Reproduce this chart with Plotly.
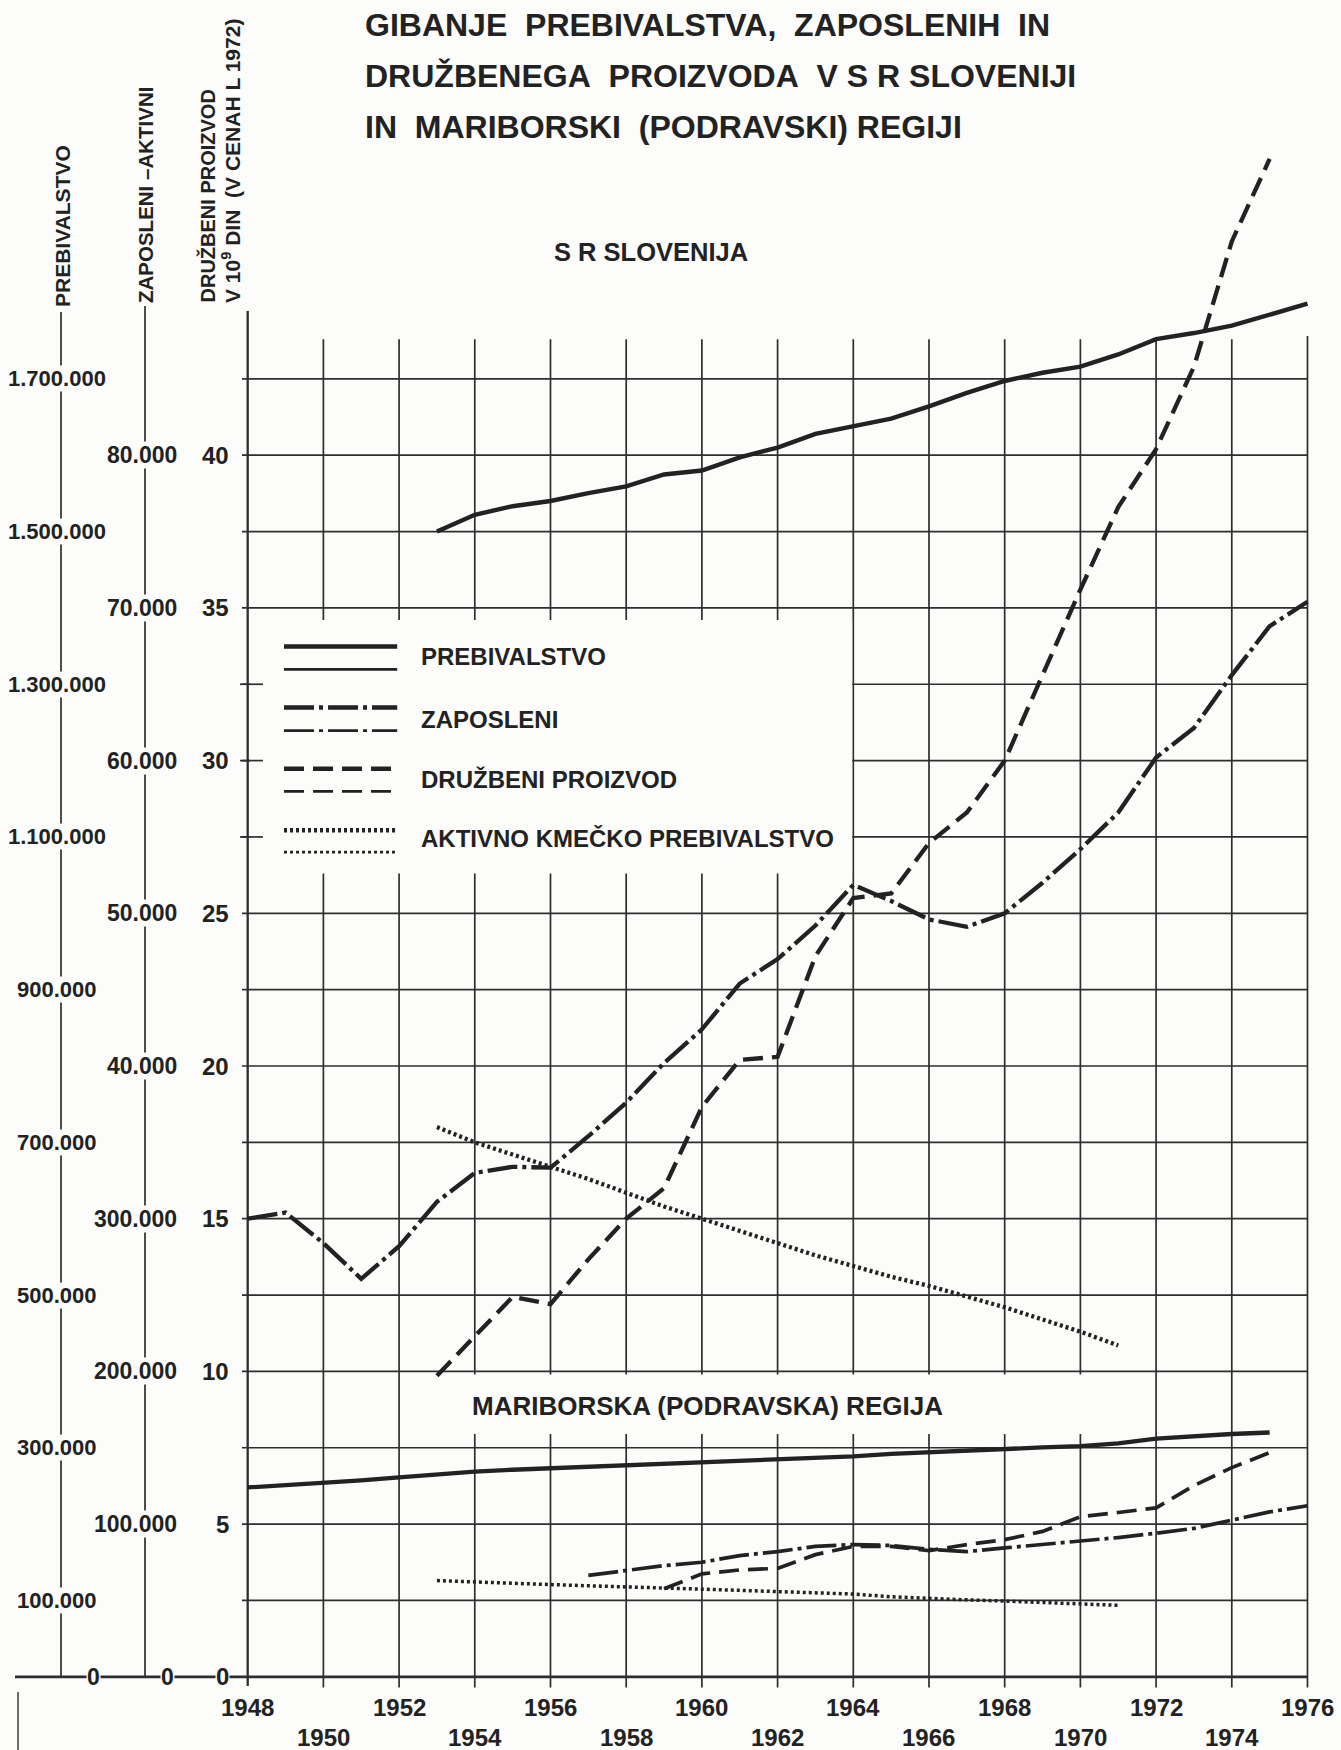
import plotly.graph_objects as go

# ---------------- data ----------------
years_slo_preb = list(range(1953, 1977))
slo_preb = [37.5, 38.05, 38.33, 38.5, 38.76, 38.98, 39.37, 39.5, 39.93, 40.25, 40.7, 40.95,
            41.2, 41.6, 42.04, 42.43, 42.7, 42.9, 43.3, 43.8, 44.0, 44.24, 44.6, 44.96]

years_slo_zap = list(range(1948, 1977))
slo_zap = [15.0, 15.2, 14.2, 13.03, 14.1, 15.55, 16.5, 16.7, 16.67, 17.7, 18.8, 20.1, 21.2,
           22.7, 23.5, 24.6, 25.93, 25.4, 24.8, 24.56, 25.0, 26.0, 27.1, 28.3, 30.1, 31.07,
           32.8, 34.4, 35.2]

years_slo_dp = list(range(1953, 1976))
slo_dp = [9.86, 11.15, 12.44, 12.2, 13.67, 15.0, 16.0, 18.66, 20.2, 20.3, 23.6, 25.5, 25.65,
          27.3, 28.3, 30.0, 32.8, 35.6, 38.3, 40.2, 42.9, 47.0, 49.7]

years_slo_akt = list(range(1953, 1972))
slo_akt = [18.0, 17.5, 17.1, 16.7, 16.3, 15.85, 15.4, 15.0, 14.6, 14.2, 13.8, 13.45, 13.1,
           12.8, 12.45, 12.1, 11.7, 11.3, 10.85]

years_mb_preb = list(range(1948, 1976))
mb_preb = [6.2, 6.27, 6.33, 6.43, 6.53, 6.63, 6.72, 6.78, 6.83, 6.88, 6.93, 6.98, 7.02, 7.06,
           7.1, 7.16, 7.22, 7.3, 7.36, 7.42, 7.47, 7.51, 7.55, 7.64, 7.8, 7.88, 7.95, 8.0]

years_mb_zap = list(range(1957, 1977))
mb_zap = [3.32, 3.48, 3.64, 3.75, 3.97, 4.1, 4.27, 4.33, 4.3, 4.17, 4.1, 4.22, 4.33, 4.44,
          4.56, 4.7, 4.86, 5.13, 5.4, 5.6]

years_mb_dp = list(range(1959, 1976))
mb_dp = [2.88, 3.37, 3.5, 3.55, 4.0, 4.27, 4.27, 4.13, 4.33, 4.49, 4.76, 5.24, 5.38, 5.53,
         6.26, 6.85, 7.34]

years_mb_akt = list(range(1953, 1972))
mb_akt = [3.15, 3.1, 3.06, 3.02, 2.98, 2.95, 2.91, 2.87, 2.83, 2.79, 2.75, 2.71, 2.62, 2.56,
          2.52, 2.48, 2.44, 2.39, 2.34]

# axis tick labels
dp_ticks = [0, 5, 10, 15, 20, 25, 30, 35, 40]
dp_labels = ["0", "5", "10", "15", "20", "25", "30", "35", "40"]
zap_labels = ["0", "100.000", "200.000", "300.000", "40.000", "50.000", "60.000", "70.000", "80.000"]
preb_ticks = [0, 2.5, 7.5, 12.5, 17.5, 22.5, 27.5, 32.5, 37.5, 42.5]
preb_labels = ["0", "100.000", "300.000", "500.000", "700.000", "900.000", "1.100.000",
               "1.300.000", "1.500.000", "1.700.000"]
x_label_years = list(range(1948, 1977, 2))

legend_names = ["PREBIVALSTVO", "ZAPOSLENI", "DRUŽBENI PROIZVOD", "AKTIVNO KMEČKO PREBIVALSTVO"]

# ---------------- styling ----------------
INK = "#222222"
GRID = "#2e2e2e"
BG = "#fcfcfa"
FONT = "Liberation Sans, Arial, sans-serif"

DASH = {"preb": "solid", "zap": "30px,5px,4px,5px", "dp": "20px,9px", "akt": "3px,3px"}

W, H = 1341, 1750
PX_PER_YEAR = 37.85
X_MIN = 1941.456
Y0_PX = 1676.8
PX_PER_UNIT = 30.54


def xp(px):
    return X_MIN + px / PX_PER_YEAR


def yp(py):
    return (Y0_PX - py) / PX_PER_UNIT


fig = go.Figure()


def add_series(x, y, kind, width):
    fig.add_trace(go.Scatter(x=x, y=y, mode="lines",
                             line=dict(color=INK, width=width, dash=DASH[kind]),
                             showlegend=False, hoverinfo="skip"))


add_series(years_slo_preb, slo_preb, "preb", 4.4)
add_series(years_slo_zap, slo_zap, "zap", 4.3)
add_series(years_slo_dp, slo_dp, "dp", 4.3)
add_series(years_slo_akt, slo_akt, "akt", 4.3)
add_series(years_mb_preb, mb_preb, "preb", 4.3)
add_series(years_mb_zap, mb_zap, "zap", 3.7)
add_series(years_mb_dp, mb_dp, "dp", 3.7)
add_series(years_mb_akt, mb_akt, "akt", 3.5)

shapes = []


def seg(x0, y0, x1, y1, w=1.7, color=GRID, dash="solid", layer="below"):
    shapes.append(dict(type="line", xref="x", yref="y", x0=x0, y0=y0, x1=x1, y1=y1,
                       line=dict(color=color, width=w, dash=dash), layer=layer))


def box(x0, y0, x1, y1):
    shapes.append(dict(type="rect", xref="x", yref="y", x0=x0, y0=y0, x1=x1, y1=y1,
                       fillcolor=BG, line=dict(width=0), layer="below"))


# horizontal grid
for k in range(1, 18):
    v = 2.5 * k
    seg(xp(242), v, 1976, v)
seg(xp(15), 0, 1976, 0, w=2.8)
# vertical grid
for yr in x_label_years[1:]:
    top = 43.9 if yr == 1976 else 43.8
    seg(yr, -0.35, yr, top)
# left axes
seg(xp(61), 0, xp(61), yp(312), w=1.7)
seg(xp(145), 0, xp(145), yp(306), w=1.7)
seg(xp(18), yp(1692), xp(18), yp(1760), w=1.4)

# white boxes (legend, region label)
box(1948.06, 26.3, 1963.97, 34.6)
box(1953.2, 7.95, 1971.2, 9.9)
# ticks on the main axis under the legend box
for v in (27.5, 30.0, 32.5):
    seg(xp(240), v, xp(263), v)
# main (DP) axis
seg(1948, -0.3, 1948, yp(311), w=2.3)

# legend samples
row_thick = [33.74, 31.74, 29.73, 27.72]
row_thin = [32.99, 30.98, 28.99, 27.0]
row_text = [33.42, 31.35, 29.38, 27.46]
kinds = ["preb", "zap", "dp", "akt"]
for i, kd in enumerate(kinds):
    seg(1948.96, row_thick[i], 1951.95, row_thick[i], w=4.5, color=INK, dash=DASH[kd], layer="above")
    seg(1948.96, row_thin[i], 1951.95, row_thin[i], w=2.8, color=INK, dash=DASH[kd], layer="above")

ann = []


def text(x, y, s, size, xanchor="center", yanchor="middle", xref="x", yref="y",
         angle=0, bg=None):
    d = dict(x=x, y=y, xref=xref, yref=yref, text="<b>" + s + "</b>", showarrow=False,
             xanchor=xanchor, yanchor=yanchor, textangle=angle,
             font=dict(family=FONT, size=size, color=INK), borderpad=0)
    if bg:
        d["bgcolor"] = bg
    ann.append(d)


for i, name in enumerate(legend_names):
    text(1952.55, row_text[i], name, 24, xanchor="left")

# title
NB = "\u00a0"
title_lines = ["GIBANJE" + NB + " PREBIVALSTVA," + NB + " ZAPOSLENIH" + NB + " IN",
               "DRUŽBENEGA" + NB + " PROIZVODA" + NB + " V S R SLOVENIJI",
               "IN" + NB + " MARIBORSKI" + NB + " (PODRAVSKI) REGIJI"]
for line, cy in zip(title_lines, [25, 76, 127]):
    text(364 / W, 1 - cy / H, line, 32, xanchor="left", xref="paper", yref="paper")

text(651 / W, 1 - 252 / H, "S R SLOVENIJA", 25.5, xref="paper", yref="paper")
text(1960.16, 8.88, "MARIBORSKA (PODRAVSKA) REGIJA", 26)

# axis titles (rotated)
text(xp(62), yp(308), "PREBIVALSTVO", 21, yanchor="bottom", angle=-90)
text(xp(145), yp(304), "ZAPOSLENI –AKTIVNI", 20.5, yanchor="bottom", angle=-90)
text(xp(207), yp(304), "DRUŽBENI PROIZVOD", 20, yanchor="bottom", angle=-90)
text(xp(231), yp(304), "V 10<sup>9</sup> DIN  (V CENAH L 1972)", 21,
     yanchor="bottom", angle=-90)

# tick labels
for v, lab in zip(dp_ticks, dp_labels):
    text(xp(230), v, lab, 24, xanchor="right", bg=BG)
for v, lab in zip(dp_ticks, zap_labels):
    if lab == "0":
        text(xp(167), v, lab, 23, bg=BG)
    else:
        text(xp(178), v, lab, 23, xanchor="right", bg=BG)
for v, lab in zip(preb_ticks, preb_labels):
    if lab == "0":
        text(xp(93), v, lab, 23, bg=BG)
    else:
        text(xp(57), v, lab, 22, bg=BG)

for i, yr in enumerate(x_label_years):
    text(yr, -1.0 if i % 2 == 0 else -2.0, str(yr), 24)

fig.update_layout(
    width=W, height=H, autosize=False,
    margin=dict(l=0, r=0, t=0, b=0, pad=0),
    paper_bgcolor=BG, plot_bgcolor=BG,
    xaxis=dict(range=[xp(0), xp(W)], visible=False, fixedrange=True),
    yaxis=dict(range=[yp(H), yp(0)], visible=False, fixedrange=True),
    shapes=shapes, annotations=ann, showlegend=False,
)

fig.write_html("out.html", config={"displayModeBar": False},
               post_script="document.body.style.margin='0';document.body.style.overflow='hidden';")
